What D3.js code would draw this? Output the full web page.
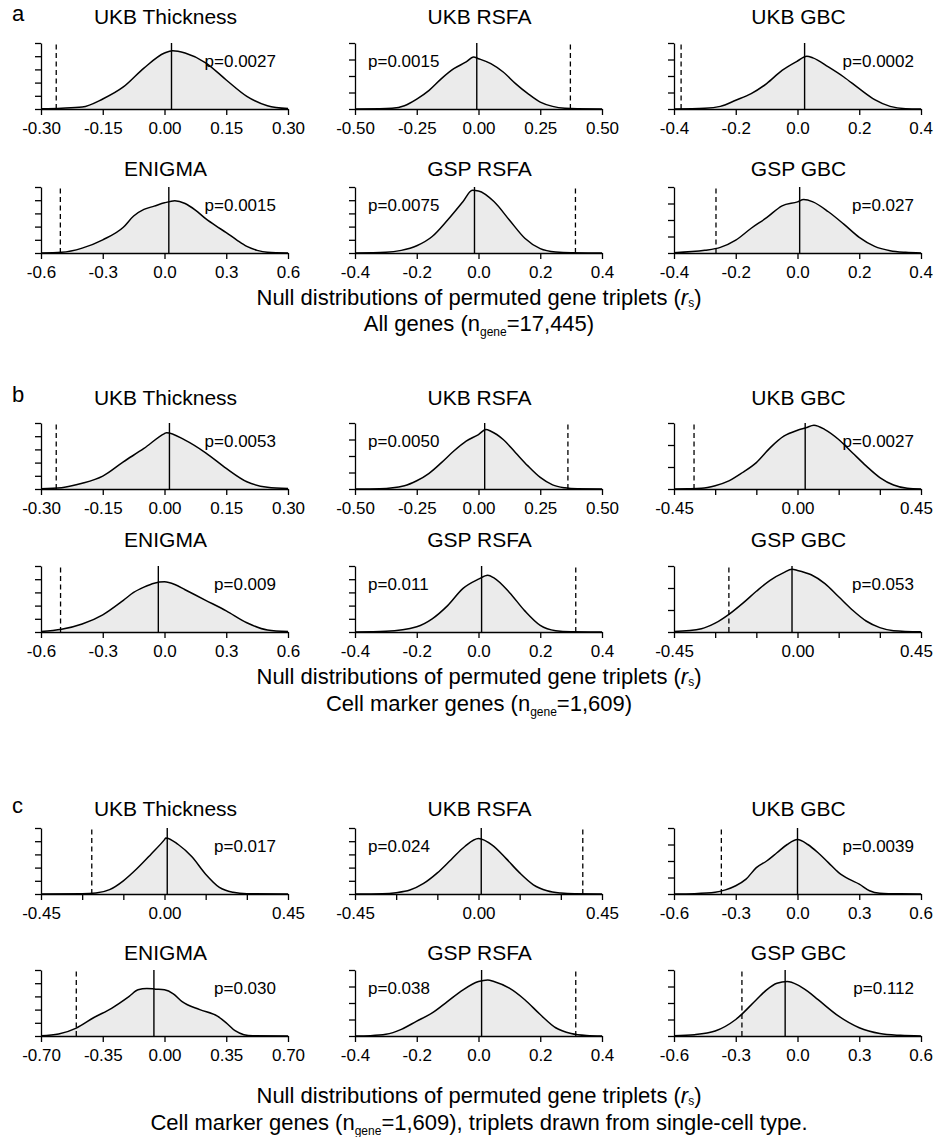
<!DOCTYPE html>
<html>
<head>
<meta charset="utf-8">
<title>Null distributions</title>
<script src="https://cdnjs.cloudflare.com/ajax/libs/d3/7.8.5/d3.min.js"></script>
<style>
  body { margin: 0; background: #fff; }
  svg { font-family: "Liberation Sans", Arial, sans-serif; }
  .axis path, .axis line { stroke: #000; stroke-width: 1.3; }
  .axis text { font-size: 17px; fill: #000; }
</style>
</head>
<body>
<div id="chart"></div>
<script>
// ---- data ----
var sectionLetters = ['a', 'b', 'c'];
var panelTitles = ['UKB Thickness', 'UKB RSFA', 'UKB GBC', 'ENIGMA', 'GSP RSFA', 'GSP GBC'];
var footerSets = ['All genes', 'Cell marker genes', 'Cell marker genes'];
var footerCounts = ['=17,445)', '=1,609)', '=1,609), triplets drawn from single-cell type.'];

// tick sets
var ticks030 = [-0.3, -0.15, 0, 0.15, 0.3], labels030 = ['-0.30', '-0.15', '0.00', '0.15', '0.30'];
var ticks050 = [-0.5, -0.25, 0, 0.25, 0.5], labels050 = ['-0.50', '-0.25', '0.00', '0.25', '0.50'];
var ticks04 = [-0.4, -0.2, 0, 0.2, 0.4], labels04 = ['-0.4', '-0.2', '0.0', '0.2', '0.4'];
var ticks06 = [-0.6, -0.3, 0, 0.3, 0.6], labels06 = ['-0.6', '-0.3', '0.0', '0.3', '0.6'];
var ticks045 = [-0.45, -0.3, -0.15, 0, 0.15, 0.3, 0.45], labels045 = ['-0.45', '', '', '0.00', '', '', '0.45'];
var ticks070 = [-0.7, -0.35, 0, 0.35, 0.7], labels070 = ['-0.70', '-0.35', '0.00', '0.35', '0.70'];

var xTicks = [
  ticks030, ticks050, ticks04, ticks06, ticks04, ticks04,
  ticks030, ticks050, ticks045, ticks06, ticks04, ticks045,
  ticks045, ticks045, ticks06, ticks070, ticks04, ticks06
];
var xTickLabels = [
  labels030, labels050, labels04, labels06, labels04, labels04,
  labels030, labels050, labels045, labels06, labels04, labels045,
  labels045, labels045, labels06, labels070, labels04, labels06
];
var yMaxes = [5, 4, 4, 5, 5, 4,  5, 4, 3, 5, 5, 3,  5, 5, 4, 5, 4, 4];
var pLabels = [
  'p=0.0027', 'p=0.0015', 'p=0.0002', 'p=0.0015', 'p=0.0075', 'p=0.027',
  'p=0.0053', 'p=0.0050', 'p=0.0027', 'p=0.009', 'p=0.011', 'p=0.053',
  'p=0.017', 'p=0.024', 'p=0.0039', 'p=0.030', 'p=0.038', 'p=0.112'
];
// observed correlation (dashed) and null centre (solid)
var observedR = [-0.263, 0.372, -0.377, -0.506, 0.314, -0.264,
                 -0.263, 0.362, -0.377, -0.505, 0.315, -0.25,
                 -0.265, 0.38, -0.37, -0.5, 0.315, -0.27];
var nullCentre = [0.017, -0.007, 0.023, 0.021, -0.013, 0.007,
                  0.012, 0.025, 0.028, -0.03, 0.01, -0.02,
                  0.01, 0.01, 0.0, -0.06, 0.01, -0.06];

// density curves [r, density]
var densA = [
  [[-0.3,0.02],[-0.25,0.06],[-0.2,0.15],[-0.15,0.76],[-0.1,1.67],[-0.05,3.1],[0,4.24],[0.02,4.42],[0.05,4.24],[0.1,3.5],[0.15,2.2],[0.2,0.96],[0.25,0.25],[0.3,0.03]],
  [[-0.5,0],[-0.4,0.01],[-0.35,0.04],[-0.3,0.2],[-0.25,0.6],[-0.2,1.13],[-0.15,1.84],[-0.1,2.44],[-0.05,2.85],[-0.02,3.15],[0,3.05],[0.05,2.75],[0.1,2.24],[0.15,1.54],[0.2,0.93],[0.25,0.42],[0.3,0.16],[0.35,0.04],[0.4,0.01],[0.5,0]],
  [[-0.4,0],[-0.3,0.04],[-0.25,0.16],[-0.2,0.53],[-0.15,0.93],[-0.1,1.54],[-0.05,2.34],[0,2.91],[0.03,3.2],[0.05,3.1],[0.1,2.55],[0.15,1.94],[0.2,1.23],[0.25,0.57],[0.3,0.16],[0.35,0.02],[0.4,0]],
  [[-0.6,0],[-0.5,0.05],[-0.4,0.37],[-0.3,1.0],[-0.2,1.95],[-0.15,2.8],[-0.1,3.3],[-0.05,3.55],[0,3.8],[0.05,3.95],[0.1,3.75],[0.15,3.25],[0.2,2.6],[0.25,2.05],[0.3,1.55],[0.35,1.0],[0.4,0.5],[0.45,0.2],[0.5,0.05],[0.6,0]],
  [[-0.4,0],[-0.3,0.05],[-0.25,0.2],[-0.2,0.55],[-0.15,1.25],[-0.1,2.5],[-0.05,3.9],[-0.02,4.75],[0,4.7],[0.05,3.9],[0.1,2.5],[0.15,1.12],[0.2,0.33],[0.25,0.07],[0.3,0.01],[0.4,0]],
  [[-0.4,0.02],[-0.3,0.16],[-0.25,0.34],[-0.2,0.78],[-0.15,1.5],[-0.1,2.14],[-0.05,2.86],[0,3.1],[0.02,3.24],[0.05,3.1],[0.1,2.5],[0.15,1.75],[0.2,0.95],[0.25,0.4],[0.3,0.14],[0.35,0.04],[0.4,0]]
];
var densB = [
  [[-0.3,0.02],[-0.25,0.1],[-0.2,0.43],[-0.15,0.98],[-0.1,2.06],[-0.05,3.07],[0,4.2],[0.005,4.27],[0.05,3.7],[0.1,2.74],[0.15,1.56],[0.2,0.55],[0.25,0.13],[0.3,0.03]],
  [[-0.5,0],[-0.4,0.02],[-0.3,0.2],[-0.25,0.5],[-0.2,0.95],[-0.15,1.6],[-0.1,2.3],[-0.05,2.9],[0,3.3],[0.03,3.6],[0.05,3.5],[0.1,3.0],[0.15,2.2],[0.2,1.4],[0.25,0.7],[0.3,0.25],[0.35,0.07],[0.4,0.01],[0.5,0]],
  [[-0.45,0],[-0.4,0.01],[-0.35,0.03],[-0.3,0.15],[-0.25,0.37],[-0.2,0.75],[-0.15,1.2],[-0.1,1.87],[-0.05,2.4],[0,2.67],[0.03,2.78],[0.06,2.9],[0.1,2.7],[0.15,2.25],[0.2,1.65],[0.25,1.05],[0.3,0.52],[0.35,0.18],[0.4,0.03],[0.45,0]],
  [[-0.6,0.03],[-0.5,0.2],[-0.4,0.6],[-0.3,1.3],[-0.2,2.4],[-0.15,3.0],[-0.1,3.4],[-0.05,3.7],[0,3.8],[0.05,3.6],[0.1,3.2],[0.2,2.4],[0.3,1.6],[0.4,0.7],[0.5,0.15],[0.6,0.03]],
  [[-0.4,0],[-0.3,0.05],[-0.2,0.4],[-0.15,1.0],[-0.1,2.0],[-0.05,3.3],[0,4.0],[0.03,4.3],[0.05,4.1],[0.1,3.0],[0.15,1.6],[0.2,0.5],[0.25,0.1],[0.3,0.02],[0.4,0]],
  [[-0.45,0.02],[-0.35,0.15],[-0.3,0.4],[-0.25,0.8],[-0.2,1.3],[-0.15,1.85],[-0.1,2.35],[-0.05,2.7],[-0.02,2.85],[0,2.8],[0.05,2.6],[0.1,2.2],[0.15,1.6],[0.2,1.0],[0.25,0.5],[0.3,0.2],[0.35,0.06],[0.45,0.01]]
];
var densC = [
  [[-0.45,0],[-0.3,0.01],[-0.25,0.07],[-0.2,0.33],[-0.15,1.0],[-0.1,1.93],[-0.05,3.0],[0,4.12],[0.005,4.25],[0.05,3.75],[0.1,2.82],[0.15,1.5],[0.2,0.5],[0.25,0.13],[0.3,0.02],[0.45,0]],
  [[-0.45,0],[-0.35,0.02],[-0.3,0.1],[-0.25,0.3],[-0.2,0.8],[-0.15,1.6],[-0.1,2.6],[-0.05,3.6],[0,4.2],[0.05,3.7],[0.1,2.7],[0.15,1.6],[0.2,0.7],[0.25,0.25],[0.3,0.07],[0.35,0.01],[0.45,0]],
  [[-0.6,0],[-0.5,0.02],[-0.4,0.1],[-0.35,0.25],[-0.3,0.5],[-0.25,0.9],[-0.2,1.6],[-0.15,2.0],[-0.1,2.5],[-0.05,3.0],[0,3.3],[0.05,3.0],[0.1,2.5],[0.15,1.9],[0.2,1.3],[0.25,0.9],[0.3,0.6],[0.35,0.2],[0.4,0.05],[0.5,0.01],[0.6,0]],
  [[-0.7,0.02],[-0.6,0.15],[-0.5,0.6],[-0.4,1.4],[-0.3,2.1],[-0.2,3.0],[-0.15,3.5],[-0.1,3.6],[-0.05,3.55],[0,3.5],[0.05,3.2],[0.1,2.6],[0.2,2.0],[0.3,1.5],[0.35,1.0],[0.4,0.4],[0.45,0.1],[0.5,0.02],[0.7,0]],
  [[-0.4,0],[-0.35,0.02],[-0.3,0.1],[-0.25,0.4],[-0.2,0.9],[-0.15,1.4],[-0.1,2.1],[-0.05,2.8],[0,3.3],[0.03,3.4],[0.05,3.3],[0.1,2.9],[0.15,2.2],[0.2,1.3],[0.25,0.5],[0.3,0.15],[0.35,0.03],[0.4,0]],
  [[-0.6,0.02],[-0.5,0.08],[-0.4,0.3],[-0.3,1.0],[-0.2,2.2],[-0.15,2.8],[-0.1,3.2],[-0.05,3.3],[0,3.1],[0.05,2.7],[0.1,2.2],[0.2,1.2],[0.3,0.5],[0.4,0.15],[0.5,0.04],[0.6,0]]
];
var densities = densA.concat(densB, densC);

// ---- layout ----
var width = 935, height = 1137;
var colX = [41, 355, 674];
var panelW = 247, panelH = 66;
var rowTop = [[43, 187], [423, 566], [828, 970]];
var titleY = [[24, 176], [405, 547], [816, 960]];
var letterY = [21, 402, 813];
var footerY = [[305, 331], [684, 711], [1103, 1130]];
var footerX = 479;

var svg = d3.select('#chart')
  .append('svg')
  .attr('width', width)
  .attr('height', height);

sectionLetters.forEach(function(letter, s) {
  svg.append('text')
    .attr('x', 12).attr('y', letterY[s])
    .style('font-size', '22px')
    .text(letter);

  for (var k = 0; k < 6; k++) {
    var idx = s * 6 + k;
    var row = Math.floor(k / 3), col = k % 3;
    drawPanel(idx, colX[col], rowTop[s][row], titleY[s][row], k, col);
  }

  // footer
  var f1 = svg.append('text')
    .attr('x', footerX).attr('y', footerY[s][0])
    .attr('text-anchor', 'middle')
    .style('font-size', '22px');
  f1.append('tspan').text('Null distributions of permuted gene triplets (');
  f1.append('tspan').style('font-style', 'italic').text('r');
  f1.append('tspan').style('font-size', '12px').attr('dy', 2).text('s');
  f1.append('tspan').attr('dy', -2).text(')');

  var f2 = svg.append('text')
    .attr('x', footerX).attr('y', footerY[s][1])
    .attr('text-anchor', 'middle')
    .style('font-size', '22px');
  f2.append('tspan').text(footerSets[s] + ' (n');
  f2.append('tspan').style('font-size', '12px').attr('dy', 5).text('gene');
  f2.append('tspan').attr('dy', -5).text(footerCounts[s]);
});

function drawPanel(i, x0, y0, ty, k, col) {
  var g = svg.append('g').attr('transform', 'translate(' + x0 + ',' + y0 + ')');
  var dom = [xTicks[i][0], xTicks[i][xTicks[i].length - 1]];
  var x = d3.scaleLinear().domain(dom).range([0, panelW]);
  var y = d3.scaleLinear().domain([0, yMaxes[i]]).range([panelH, 0]);

  svg.append('text')
    .attr('x', x0 + panelW / 2 + 1).attr('y', ty)
    .attr('text-anchor', 'middle')
    .style('font-size', '21px')
    .text(panelTitles[k]);

  var area = d3.area()
    .x(function(d) { return x(d[0]); })
    .y0(panelH)
    .y1(function(d) { return y(d[1]); })
    .curve(d3.curveMonotoneX);
  var line = d3.line()
    .x(function(d) { return x(d[0]); })
    .y(function(d) { return y(d[1]); })
    .curve(d3.curveMonotoneX);

  g.append('path').datum(densities[i])
    .attr('d', area)
    .attr('fill', '#ebebeb');
  g.append('path').datum(densities[i])
    .attr('d', line)
    .attr('fill', 'none')
    .attr('stroke', '#000')
    .attr('stroke-width', 1.5);

  // null centre
  g.append('line')
    .attr('x1', x(nullCentre[i])).attr('x2', x(nullCentre[i]))
    .attr('y1', y(0)).attr('y2', y(yMaxes[i]))
    .attr('stroke', '#000').attr('stroke-width', 1.4);
  // observed
  g.append('line')
    .attr('x1', x(observedR[i])).attr('x2', x(observedR[i]))
    .attr('y1', y(0)).attr('y2', y(yMaxes[i]))
    .attr('stroke', '#000').attr('stroke-width', 1.3)
    .attr('stroke-dasharray', '5,3.5');

  var xa = g.append('g')
    .attr('class', 'axis')
    .attr('transform', 'translate(0,' + panelH + ')')
    .call(d3.axisBottom(x)
      .tickValues(xTicks[i])
      .tickFormat(function(d, j) { return xTickLabels[i][j]; })
      .tickSize(6).tickSizeOuter(0).tickPadding(7));

  // keep the last label of the right column inside the page
  if (col === 2) {
    xa.selectAll('text').each(function() {
      var b = this.getBBox();
      var over = x0 + b.x + b.width + (this.parentNode.transform.baseVal.consolidate().matrix.e) - (width - 2);
      if (over > 0) d3.select(this).attr('dx', -over);
    });
  }

  g.append('g')
    .attr('class', 'axis')
    .call(d3.axisLeft(y)
      .tickValues(d3.range(0, yMaxes[i] + 1))
      .tickFormat('')
      .tickSize(6).tickSizeOuter(0));

  g.selectAll('.axis').attr('font-family', null).attr('font-size', null);

  // p value
  var left = i % 3 === 1;
  g.append('text')
    .attr('x', left ? 13 : panelW - (col === 2 ? 7 : 12))
    .attr('y', 24)
    .attr('text-anchor', left ? 'start' : 'end')
    .style('font-size', '17px')
    .text(pLabels[i]);
}
</script>
</body>
</html>
